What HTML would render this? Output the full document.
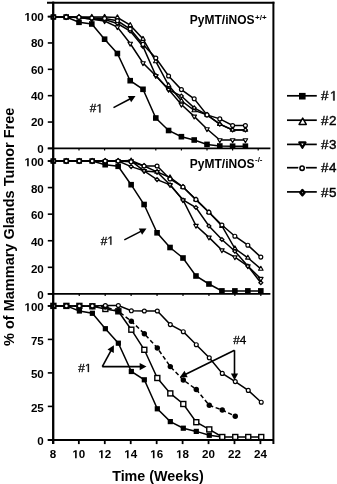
<!DOCTYPE html>
<html><head><meta charset="utf-8"><style>
html,body{margin:0;padding:0;background:#fff;}
body{width:337px;height:484px;overflow:hidden;}
svg{display:block;will-change:transform;font-family:"Liberation Sans",sans-serif;}
</style></head><body>
<svg width="337" height="484" viewBox="0 0 337 484">
<rect width="337" height="484" fill="#fff"/>
<line x1="47.00" y1="2.80" x2="274.40" y2="2.80" stroke="#000" stroke-width="2.0"/>
<line x1="53.20" y1="1.80" x2="53.20" y2="444.10" stroke="#000" stroke-width="2.0"/>
<line x1="273.40" y1="1.80" x2="273.40" y2="444.10" stroke="#000" stroke-width="2.0"/>
<line x1="47.80" y1="148.40" x2="270.40" y2="148.40" stroke="#000" stroke-width="1.8"/>
<line x1="47.80" y1="293.90" x2="270.40" y2="293.90" stroke="#000" stroke-width="1.8"/>
<line x1="47.80" y1="439.90" x2="273.40" y2="439.90" stroke="#000" stroke-width="2.0"/>
<line x1="47.80" y1="16.60" x2="53.20" y2="16.60" stroke="#000" stroke-width="1.6"/>
<path d="M478,0L478,1170L140,959L140,1180L493,1409L759,1409L759,0Z" transform="translate(24.446,21.0) scale(0.005664,-0.005664)" fill="#000"/>
<text x="30.897" y="21.0" font-size="11.6" font-weight="bold">0</text>
<text x="37.349" y="21.0" font-size="11.6" font-weight="bold">0</text>
<line x1="47.80" y1="42.96" x2="53.20" y2="42.96" stroke="#000" stroke-width="1.6"/>
<text x="30.897" y="47.36" font-size="11.6" font-weight="bold">8</text>
<text x="37.349" y="47.36" font-size="11.6" font-weight="bold">0</text>
<line x1="47.80" y1="69.32" x2="53.20" y2="69.32" stroke="#000" stroke-width="1.6"/>
<text x="30.897" y="73.72" font-size="11.6" font-weight="bold">6</text>
<text x="37.349" y="73.72" font-size="11.6" font-weight="bold">0</text>
<line x1="47.80" y1="95.68" x2="53.20" y2="95.68" stroke="#000" stroke-width="1.6"/>
<text x="30.897" y="100.08" font-size="11.6" font-weight="bold">4</text>
<text x="37.349" y="100.08" font-size="11.6" font-weight="bold">0</text>
<line x1="47.80" y1="122.04" x2="53.20" y2="122.04" stroke="#000" stroke-width="1.6"/>
<text x="30.897" y="126.44" font-size="11.6" font-weight="bold">2</text>
<text x="37.349" y="126.44" font-size="11.6" font-weight="bold">0</text>
<line x1="47.80" y1="148.40" x2="53.20" y2="148.40" stroke="#000" stroke-width="1.6"/>
<text x="37.349" y="152.8" font-size="11.6" font-weight="bold">0</text>
<line x1="47.80" y1="161.00" x2="53.20" y2="161.00" stroke="#000" stroke-width="1.6"/>
<path d="M478,0L478,1170L140,959L140,1180L493,1409L759,1409L759,0Z" transform="translate(24.446,166.2) scale(0.005664,-0.005664)" fill="#000"/>
<text x="30.897" y="166.2" font-size="11.6" font-weight="bold">0</text>
<text x="37.349" y="166.2" font-size="11.6" font-weight="bold">0</text>
<line x1="47.80" y1="187.58" x2="53.20" y2="187.58" stroke="#000" stroke-width="1.6"/>
<text x="30.897" y="192.78" font-size="11.6" font-weight="bold">8</text>
<text x="37.349" y="192.78" font-size="11.6" font-weight="bold">0</text>
<line x1="47.80" y1="214.16" x2="53.20" y2="214.16" stroke="#000" stroke-width="1.6"/>
<text x="30.897" y="219.36" font-size="11.6" font-weight="bold">6</text>
<text x="37.349" y="219.36" font-size="11.6" font-weight="bold">0</text>
<line x1="47.80" y1="240.74" x2="53.20" y2="240.74" stroke="#000" stroke-width="1.6"/>
<text x="30.897" y="245.94" font-size="11.6" font-weight="bold">4</text>
<text x="37.349" y="245.94" font-size="11.6" font-weight="bold">0</text>
<line x1="47.80" y1="267.32" x2="53.20" y2="267.32" stroke="#000" stroke-width="1.6"/>
<text x="30.897" y="272.52" font-size="11.6" font-weight="bold">2</text>
<text x="37.349" y="272.52" font-size="11.6" font-weight="bold">0</text>
<line x1="47.80" y1="293.90" x2="53.20" y2="293.90" stroke="#000" stroke-width="1.6"/>
<text x="37.349" y="299.1" font-size="11.6" font-weight="bold">0</text>
<line x1="47.80" y1="305.90" x2="53.20" y2="305.90" stroke="#000" stroke-width="1.6"/>
<path d="M478,0L478,1170L140,959L140,1180L493,1409L759,1409L759,0Z" transform="translate(24.446,311.2) scale(0.005664,-0.005664)" fill="#000"/>
<text x="30.897" y="311.2" font-size="11.6" font-weight="bold">0</text>
<text x="37.349" y="311.2" font-size="11.6" font-weight="bold">0</text>
<line x1="47.80" y1="339.40" x2="53.20" y2="339.40" stroke="#000" stroke-width="1.6"/>
<text x="30.897" y="344.7" font-size="11.6" font-weight="bold">7</text>
<text x="37.349" y="344.7" font-size="11.6" font-weight="bold">5</text>
<line x1="47.80" y1="372.90" x2="53.20" y2="372.90" stroke="#000" stroke-width="1.6"/>
<text x="30.897" y="378.2" font-size="11.6" font-weight="bold">5</text>
<text x="37.349" y="378.2" font-size="11.6" font-weight="bold">0</text>
<line x1="47.80" y1="406.40" x2="53.20" y2="406.40" stroke="#000" stroke-width="1.6"/>
<text x="30.897" y="411.7" font-size="11.6" font-weight="bold">2</text>
<text x="37.349" y="411.7" font-size="11.6" font-weight="bold">5</text>
<line x1="47.80" y1="439.90" x2="53.20" y2="439.90" stroke="#000" stroke-width="1.6"/>
<text x="37.349" y="445.2" font-size="11.6" font-weight="bold">0</text>
<line x1="79.00" y1="148.40" x2="79.00" y2="150.60" stroke="#000" stroke-width="1.2"/>
<line x1="104.60" y1="148.40" x2="104.60" y2="150.60" stroke="#000" stroke-width="1.2"/>
<line x1="130.20" y1="148.40" x2="130.20" y2="150.60" stroke="#000" stroke-width="1.2"/>
<line x1="155.80" y1="148.40" x2="155.80" y2="150.60" stroke="#000" stroke-width="1.2"/>
<line x1="181.40" y1="148.40" x2="181.40" y2="150.60" stroke="#000" stroke-width="1.2"/>
<line x1="207.00" y1="148.40" x2="207.00" y2="150.60" stroke="#000" stroke-width="1.2"/>
<line x1="232.60" y1="148.40" x2="232.60" y2="150.60" stroke="#000" stroke-width="1.2"/>
<line x1="258.20" y1="148.40" x2="258.20" y2="150.60" stroke="#000" stroke-width="1.2"/>
<line x1="79.24" y1="293.90" x2="79.24" y2="296.10" stroke="#000" stroke-width="1.2"/>
<line x1="105.18" y1="293.90" x2="105.18" y2="296.10" stroke="#000" stroke-width="1.2"/>
<line x1="131.12" y1="293.90" x2="131.12" y2="296.10" stroke="#000" stroke-width="1.2"/>
<line x1="157.06" y1="293.90" x2="157.06" y2="296.10" stroke="#000" stroke-width="1.2"/>
<line x1="183.00" y1="293.90" x2="183.00" y2="296.10" stroke="#000" stroke-width="1.2"/>
<line x1="208.94" y1="293.90" x2="208.94" y2="296.10" stroke="#000" stroke-width="1.2"/>
<line x1="234.88" y1="293.90" x2="234.88" y2="296.10" stroke="#000" stroke-width="1.2"/>
<line x1="260.82" y1="293.90" x2="260.82" y2="296.10" stroke="#000" stroke-width="1.2"/>
<line x1="52.90" y1="439.90" x2="52.90" y2="444.10" stroke="#000" stroke-width="1.8"/>
<text x="49.674" y="458.3" font-size="11.6" font-weight="bold">8</text>
<line x1="78.84" y1="439.90" x2="78.84" y2="444.10" stroke="#000" stroke-width="1.8"/>
<path d="M478,0L478,1170L140,959L140,1180L493,1409L759,1409L759,0Z" transform="translate(72.389,458.3) scale(0.005664,-0.005664)" fill="#000"/>
<text x="78.840" y="458.3" font-size="11.6" font-weight="bold">0</text>
<line x1="104.78" y1="439.90" x2="104.78" y2="444.10" stroke="#000" stroke-width="1.8"/>
<path d="M478,0L478,1170L140,959L140,1180L493,1409L759,1409L759,0Z" transform="translate(98.329,458.3) scale(0.005664,-0.005664)" fill="#000"/>
<text x="104.780" y="458.3" font-size="11.6" font-weight="bold">2</text>
<line x1="130.72" y1="439.90" x2="130.72" y2="444.10" stroke="#000" stroke-width="1.8"/>
<path d="M478,0L478,1170L140,959L140,1180L493,1409L759,1409L759,0Z" transform="translate(124.269,458.3) scale(0.005664,-0.005664)" fill="#000"/>
<text x="130.720" y="458.3" font-size="11.6" font-weight="bold">4</text>
<line x1="156.66" y1="439.90" x2="156.66" y2="444.10" stroke="#000" stroke-width="1.8"/>
<path d="M478,0L478,1170L140,959L140,1180L493,1409L759,1409L759,0Z" transform="translate(150.209,458.3) scale(0.005664,-0.005664)" fill="#000"/>
<text x="156.660" y="458.3" font-size="11.6" font-weight="bold">6</text>
<line x1="182.60" y1="439.90" x2="182.60" y2="444.10" stroke="#000" stroke-width="1.8"/>
<path d="M478,0L478,1170L140,959L140,1180L493,1409L759,1409L759,0Z" transform="translate(176.149,458.3) scale(0.005664,-0.005664)" fill="#000"/>
<text x="182.600" y="458.3" font-size="11.6" font-weight="bold">8</text>
<line x1="208.54" y1="439.90" x2="208.54" y2="444.10" stroke="#000" stroke-width="1.8"/>
<text x="202.089" y="458.3" font-size="11.6" font-weight="bold">2</text>
<text x="208.540" y="458.3" font-size="11.6" font-weight="bold">0</text>
<line x1="234.48" y1="439.90" x2="234.48" y2="444.10" stroke="#000" stroke-width="1.8"/>
<text x="228.029" y="458.3" font-size="11.6" font-weight="bold">2</text>
<text x="234.480" y="458.3" font-size="11.6" font-weight="bold">2</text>
<line x1="260.42" y1="439.90" x2="260.42" y2="444.10" stroke="#000" stroke-width="1.8"/>
<text x="253.969" y="458.3" font-size="11.6" font-weight="bold">2</text>
<text x="260.420" y="458.3" font-size="11.6" font-weight="bold">4</text>
<text x="158" y="481.3" font-size="14.3" font-weight="bold" text-anchor="middle">Time (Weeks)</text>
<text x="0" y="0" font-size="14.5" font-weight="bold" text-anchor="middle" transform="translate(14.2,226.8) rotate(-90)">% of Mammary Glands Tumor Free</text>
<text x="189.8" y="24.3" font-size="12" font-weight="bold">PyMT/iNOS<tspan font-size="8" dx="0.6" dy="-4.8">+/+</tspan></text>
<text x="189.8" y="168.3" font-size="12" font-weight="bold">PyMT/iNOS<tspan font-size="8" dx="0.5" dy="-6.6">-/-</tspan></text>
<polyline points="53.40,17.00 66.20,17.00 79.00,17.50 91.80,19.30 104.60,21.00 117.40,27.00 130.20,43.50 143.00,63.00 155.80,75.80 168.60,89.60 181.40,104.50 194.20,116.40 207.00,129.00 219.80,140.00 232.60,140.00 245.40,140.00" fill="none" stroke="#000" stroke-width="1.5" stroke-linejoin="miter"/>
<polyline points="53.40,17.00 66.20,17.00 79.00,17.50 91.80,19.00 104.60,19.50 117.40,23.50 130.20,31.00 143.00,46.50 155.80,75.50 168.60,89.60 181.40,96.00 194.20,107.90 207.00,114.90 219.80,124.20 232.60,129.90 245.40,129.90" fill="none" stroke="#000" stroke-width="1.5" stroke-linejoin="miter"/>
<polyline points="53.40,17.00 66.20,17.00 79.00,17.00 91.80,17.00 104.60,17.00 117.40,17.50 130.20,25.20 143.00,39.00 155.80,61.40 168.60,85.30 181.40,100.80 194.20,110.40 207.00,114.90 219.80,124.20 232.60,129.90 245.40,129.90" fill="none" stroke="#000" stroke-width="1.5" stroke-linejoin="miter"/>
<polyline points="53.40,17.00 66.20,17.00 79.00,17.30 91.80,18.00 104.60,18.50 117.40,20.80 130.20,29.00 143.00,44.40 155.80,58.00 168.60,76.00 181.40,89.60 194.20,98.80 207.00,114.90 219.80,118.90 232.60,125.50 245.40,125.50" fill="none" stroke="#000" stroke-width="1.5" stroke-linejoin="miter"/>
<polyline points="53.40,17.00 66.20,17.00 79.00,22.30 91.80,24.00 104.60,39.20 117.40,53.50 130.20,80.70 143.00,89.30 155.80,118.00 168.60,130.50 181.40,136.70 194.20,140.00 207.00,144.40 219.80,146.00 232.60,146.20 245.40,146.20" fill="none" stroke="#000" stroke-width="1.5" stroke-linejoin="miter"/>
<polygon points="53.40,14.39 55.65,18.30 51.15,18.30" fill="#fff" stroke="#000" stroke-width="1.15" stroke-linejoin="round"/>
<polygon points="66.20,14.39 68.45,18.30 63.95,18.30" fill="#fff" stroke="#000" stroke-width="1.15" stroke-linejoin="round"/>
<polygon points="79.00,14.39 81.25,18.30 76.75,18.30" fill="#fff" stroke="#000" stroke-width="1.15" stroke-linejoin="round"/>
<polygon points="91.80,14.39 94.05,18.30 89.55,18.30" fill="#fff" stroke="#000" stroke-width="1.15" stroke-linejoin="round"/>
<polygon points="104.60,14.39 106.85,18.30 102.35,18.30" fill="#fff" stroke="#000" stroke-width="1.15" stroke-linejoin="round"/>
<polygon points="117.40,14.89 119.65,18.80 115.15,18.80" fill="#fff" stroke="#000" stroke-width="1.15" stroke-linejoin="round"/>
<polygon points="130.20,22.59 132.45,26.50 127.95,26.50" fill="#fff" stroke="#000" stroke-width="1.15" stroke-linejoin="round"/>
<polygon points="143.00,36.39 145.25,40.30 140.75,40.30" fill="#fff" stroke="#000" stroke-width="1.15" stroke-linejoin="round"/>
<polygon points="155.80,58.79 158.05,62.70 153.55,62.70" fill="#fff" stroke="#000" stroke-width="1.15" stroke-linejoin="round"/>
<polygon points="168.60,82.69 170.85,86.60 166.35,86.60" fill="#fff" stroke="#000" stroke-width="1.15" stroke-linejoin="round"/>
<polygon points="181.40,98.19 183.65,102.10 179.15,102.10" fill="#fff" stroke="#000" stroke-width="1.15" stroke-linejoin="round"/>
<polygon points="194.20,107.79 196.45,111.70 191.95,111.70" fill="#fff" stroke="#000" stroke-width="1.15" stroke-linejoin="round"/>
<polygon points="207.00,112.29 209.25,116.20 204.75,116.20" fill="#fff" stroke="#000" stroke-width="1.15" stroke-linejoin="round"/>
<polygon points="219.80,121.59 222.05,125.50 217.55,125.50" fill="#fff" stroke="#000" stroke-width="1.15" stroke-linejoin="round"/>
<polygon points="232.60,127.29 234.85,131.20 230.35,131.20" fill="#fff" stroke="#000" stroke-width="1.15" stroke-linejoin="round"/>
<polygon points="245.40,127.29 247.65,131.20 243.15,131.20" fill="#fff" stroke="#000" stroke-width="1.15" stroke-linejoin="round"/>
<polygon points="53.40,19.61 55.65,15.70 51.15,15.70" fill="#fff" stroke="#000" stroke-width="1.15" stroke-linejoin="round"/>
<polygon points="66.20,19.61 68.45,15.70 63.95,15.70" fill="#fff" stroke="#000" stroke-width="1.15" stroke-linejoin="round"/>
<polygon points="79.00,20.11 81.25,16.20 76.75,16.20" fill="#fff" stroke="#000" stroke-width="1.15" stroke-linejoin="round"/>
<polygon points="91.80,21.91 94.05,18.00 89.55,18.00" fill="#fff" stroke="#000" stroke-width="1.15" stroke-linejoin="round"/>
<polygon points="104.60,23.61 106.85,19.70 102.35,19.70" fill="#fff" stroke="#000" stroke-width="1.15" stroke-linejoin="round"/>
<polygon points="117.40,29.61 119.65,25.70 115.15,25.70" fill="#fff" stroke="#000" stroke-width="1.15" stroke-linejoin="round"/>
<polygon points="130.20,46.11 132.45,42.20 127.95,42.20" fill="#fff" stroke="#000" stroke-width="1.15" stroke-linejoin="round"/>
<polygon points="143.00,65.61 145.25,61.70 140.75,61.70" fill="#fff" stroke="#000" stroke-width="1.15" stroke-linejoin="round"/>
<polygon points="155.80,78.41 158.05,74.50 153.55,74.50" fill="#fff" stroke="#000" stroke-width="1.15" stroke-linejoin="round"/>
<polygon points="168.60,92.21 170.85,88.30 166.35,88.30" fill="#fff" stroke="#000" stroke-width="1.15" stroke-linejoin="round"/>
<polygon points="181.40,107.11 183.65,103.20 179.15,103.20" fill="#fff" stroke="#000" stroke-width="1.15" stroke-linejoin="round"/>
<polygon points="194.20,119.01 196.45,115.10 191.95,115.10" fill="#fff" stroke="#000" stroke-width="1.15" stroke-linejoin="round"/>
<polygon points="207.00,131.61 209.25,127.70 204.75,127.70" fill="#fff" stroke="#000" stroke-width="1.15" stroke-linejoin="round"/>
<polygon points="219.80,142.61 222.05,138.70 217.55,138.70" fill="#fff" stroke="#000" stroke-width="1.15" stroke-linejoin="round"/>
<polygon points="232.60,142.61 234.85,138.70 230.35,138.70" fill="#fff" stroke="#000" stroke-width="1.15" stroke-linejoin="round"/>
<polygon points="245.40,142.61 247.65,138.70 243.15,138.70" fill="#fff" stroke="#000" stroke-width="1.15" stroke-linejoin="round"/>
<polygon points="53.40,15.10 55.30,17.00 53.40,18.90 51.50,17.00" fill="#fff" stroke="#000" stroke-width="1.3"/>
<polygon points="66.20,15.10 68.10,17.00 66.20,18.90 64.30,17.00" fill="#fff" stroke="#000" stroke-width="1.3"/>
<polygon points="79.00,15.60 80.90,17.50 79.00,19.40 77.10,17.50" fill="#fff" stroke="#000" stroke-width="1.3"/>
<polygon points="91.80,17.10 93.70,19.00 91.80,20.90 89.90,19.00" fill="#fff" stroke="#000" stroke-width="1.3"/>
<polygon points="104.60,17.60 106.50,19.50 104.60,21.40 102.70,19.50" fill="#fff" stroke="#000" stroke-width="1.3"/>
<polygon points="117.40,21.60 119.30,23.50 117.40,25.40 115.50,23.50" fill="#fff" stroke="#000" stroke-width="1.3"/>
<polygon points="130.20,29.10 132.10,31.00 130.20,32.90 128.30,31.00" fill="#fff" stroke="#000" stroke-width="1.3"/>
<polygon points="143.00,44.60 144.90,46.50 143.00,48.40 141.10,46.50" fill="#fff" stroke="#000" stroke-width="1.3"/>
<polygon points="155.80,73.60 157.70,75.50 155.80,77.40 153.90,75.50" fill="#fff" stroke="#000" stroke-width="1.3"/>
<polygon points="168.60,87.70 170.50,89.60 168.60,91.50 166.70,89.60" fill="#fff" stroke="#000" stroke-width="1.3"/>
<polygon points="181.40,94.10 183.30,96.00 181.40,97.90 179.50,96.00" fill="#fff" stroke="#000" stroke-width="1.3"/>
<polygon points="194.20,106.00 196.10,107.90 194.20,109.80 192.30,107.90" fill="#fff" stroke="#000" stroke-width="1.3"/>
<polygon points="207.00,113.00 208.90,114.90 207.00,116.80 205.10,114.90" fill="#fff" stroke="#000" stroke-width="1.3"/>
<polygon points="219.80,122.30 221.70,124.20 219.80,126.10 217.90,124.20" fill="#fff" stroke="#000" stroke-width="1.3"/>
<polygon points="232.60,128.00 234.50,129.90 232.60,131.80 230.70,129.90" fill="#fff" stroke="#000" stroke-width="1.3"/>
<polygon points="245.40,128.00 247.30,129.90 245.40,131.80 243.50,129.90" fill="#fff" stroke="#000" stroke-width="1.3"/>
<rect x="50.60" y="14.20" width="5.6" height="5.6" fill="#000"/>
<rect x="63.40" y="14.20" width="5.6" height="5.6" fill="#000"/>
<rect x="76.20" y="19.50" width="5.6" height="5.6" fill="#000"/>
<rect x="89.00" y="21.20" width="5.6" height="5.6" fill="#000"/>
<rect x="101.80" y="36.40" width="5.6" height="5.6" fill="#000"/>
<rect x="114.60" y="50.70" width="5.6" height="5.6" fill="#000"/>
<rect x="127.40" y="77.90" width="5.6" height="5.6" fill="#000"/>
<rect x="140.20" y="86.50" width="5.6" height="5.6" fill="#000"/>
<rect x="153.00" y="115.20" width="5.6" height="5.6" fill="#000"/>
<rect x="165.80" y="127.70" width="5.6" height="5.6" fill="#000"/>
<rect x="178.60" y="133.90" width="5.6" height="5.6" fill="#000"/>
<rect x="191.40" y="137.20" width="5.6" height="5.6" fill="#000"/>
<rect x="204.20" y="141.60" width="5.6" height="5.6" fill="#000"/>
<rect x="217.00" y="143.20" width="5.6" height="5.6" fill="#000"/>
<rect x="229.80" y="143.40" width="5.6" height="5.6" fill="#000"/>
<rect x="242.60" y="143.40" width="5.6" height="5.6" fill="#000"/>
<circle cx="53.40" cy="17.00" r="1.95" fill="#fff" stroke="#000" stroke-width="1.2"/>
<circle cx="66.20" cy="17.00" r="1.95" fill="#fff" stroke="#000" stroke-width="1.2"/>
<circle cx="79.00" cy="17.30" r="1.95" fill="#fff" stroke="#000" stroke-width="1.2"/>
<circle cx="91.80" cy="18.00" r="1.95" fill="#fff" stroke="#000" stroke-width="1.2"/>
<circle cx="104.60" cy="18.50" r="1.95" fill="#fff" stroke="#000" stroke-width="1.2"/>
<circle cx="117.40" cy="20.80" r="1.95" fill="#fff" stroke="#000" stroke-width="1.2"/>
<circle cx="130.20" cy="29.00" r="1.95" fill="#fff" stroke="#000" stroke-width="1.2"/>
<circle cx="143.00" cy="44.40" r="1.95" fill="#fff" stroke="#000" stroke-width="1.2"/>
<circle cx="155.80" cy="58.00" r="1.95" fill="#fff" stroke="#000" stroke-width="1.2"/>
<circle cx="168.60" cy="76.00" r="1.95" fill="#fff" stroke="#000" stroke-width="1.2"/>
<circle cx="181.40" cy="89.60" r="1.95" fill="#fff" stroke="#000" stroke-width="1.2"/>
<circle cx="194.20" cy="98.80" r="1.95" fill="#fff" stroke="#000" stroke-width="1.2"/>
<circle cx="207.00" cy="114.90" r="1.95" fill="#fff" stroke="#000" stroke-width="1.2"/>
<circle cx="219.80" cy="118.90" r="1.95" fill="#fff" stroke="#000" stroke-width="1.2"/>
<circle cx="232.60" cy="125.50" r="1.95" fill="#fff" stroke="#000" stroke-width="1.2"/>
<circle cx="245.40" cy="125.50" r="1.95" fill="#fff" stroke="#000" stroke-width="1.2"/>
<polyline points="53.30,161.00 66.27,161.00 79.24,161.00 92.21,161.00 105.18,161.00 118.15,161.00 131.12,161.00 144.09,170.90 157.06,171.90 170.03,184.80 183.00,200.00 195.97,225.60 208.94,237.40 221.91,250.10 234.88,257.10 247.85,266.10 260.82,278.70" fill="none" stroke="#000" stroke-width="1.5" stroke-linejoin="miter"/>
<polyline points="53.30,161.00 66.27,161.00 79.24,161.00 92.21,161.00 105.18,161.00 118.15,161.00 131.12,166.60 144.09,170.90 157.06,179.60 170.03,184.80 183.00,200.00 195.97,207.50 208.94,226.00 221.91,239.50 234.88,251.20 247.85,266.10 260.82,282.70" fill="none" stroke="#000" stroke-width="1.5" stroke-linejoin="miter"/>
<polyline points="53.30,161.00 66.27,161.00 79.24,161.00 92.21,161.00 105.18,161.00 118.15,161.00 131.12,160.60 144.09,166.00 157.06,171.90 170.03,177.50 183.00,187.00 195.97,199.60 208.94,212.30 221.91,226.00 234.88,248.50 247.85,257.80 260.82,268.90" fill="none" stroke="#000" stroke-width="1.5" stroke-linejoin="miter"/>
<polyline points="53.30,161.00 66.27,161.00 79.24,161.00 92.21,161.00 105.18,161.00 118.15,161.00 131.12,161.80 144.09,166.00 157.06,166.00 170.03,179.00 183.00,187.00 195.97,199.60 208.94,212.30 221.91,225.00 234.88,236.20 247.85,245.20 260.82,257.10" fill="none" stroke="#000" stroke-width="1.5" stroke-linejoin="miter"/>
<polyline points="53.30,161.00 66.27,161.00 79.24,161.00 92.21,161.00 105.18,164.70 118.15,166.30 131.12,184.70 144.09,204.50 157.06,232.80 170.03,247.50 183.00,258.00 195.97,276.00 208.94,284.00 221.91,290.90 234.88,290.90 247.85,290.90 260.82,290.90" fill="none" stroke="#000" stroke-width="1.5" stroke-linejoin="miter"/>
<polygon points="53.30,158.39 55.55,162.30 51.05,162.30" fill="#fff" stroke="#000" stroke-width="1.15" stroke-linejoin="round"/>
<polygon points="66.27,158.39 68.52,162.30 64.02,162.30" fill="#fff" stroke="#000" stroke-width="1.15" stroke-linejoin="round"/>
<polygon points="79.24,158.39 81.49,162.30 76.99,162.30" fill="#fff" stroke="#000" stroke-width="1.15" stroke-linejoin="round"/>
<polygon points="92.21,158.39 94.46,162.30 89.96,162.30" fill="#fff" stroke="#000" stroke-width="1.15" stroke-linejoin="round"/>
<polygon points="105.18,158.39 107.43,162.30 102.93,162.30" fill="#fff" stroke="#000" stroke-width="1.15" stroke-linejoin="round"/>
<polygon points="118.15,158.39 120.40,162.30 115.90,162.30" fill="#fff" stroke="#000" stroke-width="1.15" stroke-linejoin="round"/>
<polygon points="131.12,157.99 133.37,161.90 128.87,161.90" fill="#fff" stroke="#000" stroke-width="1.15" stroke-linejoin="round"/>
<polygon points="144.09,163.39 146.34,167.30 141.84,167.30" fill="#fff" stroke="#000" stroke-width="1.15" stroke-linejoin="round"/>
<polygon points="157.06,169.29 159.31,173.20 154.81,173.20" fill="#fff" stroke="#000" stroke-width="1.15" stroke-linejoin="round"/>
<polygon points="170.03,174.89 172.28,178.80 167.78,178.80" fill="#fff" stroke="#000" stroke-width="1.15" stroke-linejoin="round"/>
<polygon points="183.00,184.39 185.25,188.30 180.75,188.30" fill="#fff" stroke="#000" stroke-width="1.15" stroke-linejoin="round"/>
<polygon points="195.97,196.99 198.22,200.90 193.72,200.90" fill="#fff" stroke="#000" stroke-width="1.15" stroke-linejoin="round"/>
<polygon points="208.94,209.69 211.19,213.60 206.69,213.60" fill="#fff" stroke="#000" stroke-width="1.15" stroke-linejoin="round"/>
<polygon points="221.91,223.39 224.16,227.30 219.66,227.30" fill="#fff" stroke="#000" stroke-width="1.15" stroke-linejoin="round"/>
<polygon points="234.88,245.89 237.13,249.80 232.63,249.80" fill="#fff" stroke="#000" stroke-width="1.15" stroke-linejoin="round"/>
<polygon points="247.85,255.19 250.10,259.10 245.60,259.10" fill="#fff" stroke="#000" stroke-width="1.15" stroke-linejoin="round"/>
<polygon points="260.82,266.29 263.07,270.20 258.57,270.20" fill="#fff" stroke="#000" stroke-width="1.15" stroke-linejoin="round"/>
<polygon points="53.30,163.61 55.55,159.70 51.05,159.70" fill="#fff" stroke="#000" stroke-width="1.15" stroke-linejoin="round"/>
<polygon points="66.27,163.61 68.52,159.70 64.02,159.70" fill="#fff" stroke="#000" stroke-width="1.15" stroke-linejoin="round"/>
<polygon points="79.24,163.61 81.49,159.70 76.99,159.70" fill="#fff" stroke="#000" stroke-width="1.15" stroke-linejoin="round"/>
<polygon points="92.21,163.61 94.46,159.70 89.96,159.70" fill="#fff" stroke="#000" stroke-width="1.15" stroke-linejoin="round"/>
<polygon points="105.18,163.61 107.43,159.70 102.93,159.70" fill="#fff" stroke="#000" stroke-width="1.15" stroke-linejoin="round"/>
<polygon points="118.15,163.61 120.40,159.70 115.90,159.70" fill="#fff" stroke="#000" stroke-width="1.15" stroke-linejoin="round"/>
<polygon points="131.12,163.61 133.37,159.70 128.87,159.70" fill="#fff" stroke="#000" stroke-width="1.15" stroke-linejoin="round"/>
<polygon points="144.09,173.51 146.34,169.60 141.84,169.60" fill="#fff" stroke="#000" stroke-width="1.15" stroke-linejoin="round"/>
<polygon points="157.06,174.51 159.31,170.60 154.81,170.60" fill="#fff" stroke="#000" stroke-width="1.15" stroke-linejoin="round"/>
<polygon points="170.03,187.41 172.28,183.50 167.78,183.50" fill="#fff" stroke="#000" stroke-width="1.15" stroke-linejoin="round"/>
<polygon points="183.00,202.61 185.25,198.70 180.75,198.70" fill="#fff" stroke="#000" stroke-width="1.15" stroke-linejoin="round"/>
<polygon points="195.97,228.21 198.22,224.30 193.72,224.30" fill="#fff" stroke="#000" stroke-width="1.15" stroke-linejoin="round"/>
<polygon points="208.94,240.01 211.19,236.10 206.69,236.10" fill="#fff" stroke="#000" stroke-width="1.15" stroke-linejoin="round"/>
<polygon points="221.91,252.71 224.16,248.80 219.66,248.80" fill="#fff" stroke="#000" stroke-width="1.15" stroke-linejoin="round"/>
<polygon points="234.88,259.71 237.13,255.80 232.63,255.80" fill="#fff" stroke="#000" stroke-width="1.15" stroke-linejoin="round"/>
<polygon points="247.85,268.71 250.10,264.80 245.60,264.80" fill="#fff" stroke="#000" stroke-width="1.15" stroke-linejoin="round"/>
<polygon points="260.82,281.31 263.07,277.40 258.57,277.40" fill="#fff" stroke="#000" stroke-width="1.15" stroke-linejoin="round"/>
<polygon points="53.30,159.10 55.20,161.00 53.30,162.90 51.40,161.00" fill="#fff" stroke="#000" stroke-width="1.3"/>
<polygon points="66.27,159.10 68.17,161.00 66.27,162.90 64.37,161.00" fill="#fff" stroke="#000" stroke-width="1.3"/>
<polygon points="79.24,159.10 81.14,161.00 79.24,162.90 77.34,161.00" fill="#fff" stroke="#000" stroke-width="1.3"/>
<polygon points="92.21,159.10 94.11,161.00 92.21,162.90 90.31,161.00" fill="#fff" stroke="#000" stroke-width="1.3"/>
<polygon points="105.18,159.10 107.08,161.00 105.18,162.90 103.28,161.00" fill="#fff" stroke="#000" stroke-width="1.3"/>
<polygon points="118.15,159.10 120.05,161.00 118.15,162.90 116.25,161.00" fill="#fff" stroke="#000" stroke-width="1.3"/>
<polygon points="131.12,164.70 133.02,166.60 131.12,168.50 129.22,166.60" fill="#fff" stroke="#000" stroke-width="1.3"/>
<polygon points="144.09,169.00 145.99,170.90 144.09,172.80 142.19,170.90" fill="#fff" stroke="#000" stroke-width="1.3"/>
<polygon points="157.06,177.70 158.96,179.60 157.06,181.50 155.16,179.60" fill="#fff" stroke="#000" stroke-width="1.3"/>
<polygon points="170.03,182.90 171.93,184.80 170.03,186.70 168.13,184.80" fill="#fff" stroke="#000" stroke-width="1.3"/>
<polygon points="183.00,198.10 184.90,200.00 183.00,201.90 181.10,200.00" fill="#fff" stroke="#000" stroke-width="1.3"/>
<polygon points="195.97,205.60 197.87,207.50 195.97,209.40 194.07,207.50" fill="#fff" stroke="#000" stroke-width="1.3"/>
<polygon points="208.94,224.10 210.84,226.00 208.94,227.90 207.04,226.00" fill="#fff" stroke="#000" stroke-width="1.3"/>
<polygon points="221.91,237.60 223.81,239.50 221.91,241.40 220.01,239.50" fill="#fff" stroke="#000" stroke-width="1.3"/>
<polygon points="234.88,249.30 236.78,251.20 234.88,253.10 232.98,251.20" fill="#fff" stroke="#000" stroke-width="1.3"/>
<polygon points="247.85,264.20 249.75,266.10 247.85,268.00 245.95,266.10" fill="#fff" stroke="#000" stroke-width="1.3"/>
<polygon points="260.82,280.80 262.72,282.70 260.82,284.60 258.92,282.70" fill="#fff" stroke="#000" stroke-width="1.3"/>
<rect x="50.50" y="158.20" width="5.6" height="5.6" fill="#000"/>
<rect x="63.47" y="158.20" width="5.6" height="5.6" fill="#000"/>
<rect x="76.44" y="158.20" width="5.6" height="5.6" fill="#000"/>
<rect x="89.41" y="158.20" width="5.6" height="5.6" fill="#000"/>
<rect x="102.38" y="161.90" width="5.6" height="5.6" fill="#000"/>
<rect x="115.35" y="163.50" width="5.6" height="5.6" fill="#000"/>
<rect x="128.32" y="181.90" width="5.6" height="5.6" fill="#000"/>
<rect x="141.29" y="201.70" width="5.6" height="5.6" fill="#000"/>
<rect x="154.26" y="230.00" width="5.6" height="5.6" fill="#000"/>
<rect x="167.23" y="244.70" width="5.6" height="5.6" fill="#000"/>
<rect x="180.20" y="255.20" width="5.6" height="5.6" fill="#000"/>
<rect x="193.17" y="273.20" width="5.6" height="5.6" fill="#000"/>
<rect x="206.14" y="281.20" width="5.6" height="5.6" fill="#000"/>
<rect x="219.11" y="288.10" width="5.6" height="5.6" fill="#000"/>
<rect x="232.08" y="288.10" width="5.6" height="5.6" fill="#000"/>
<rect x="245.05" y="288.10" width="5.6" height="5.6" fill="#000"/>
<rect x="258.02" y="288.10" width="5.6" height="5.6" fill="#000"/>
<circle cx="53.30" cy="161.00" r="1.95" fill="#fff" stroke="#000" stroke-width="1.2"/>
<circle cx="66.27" cy="161.00" r="1.95" fill="#fff" stroke="#000" stroke-width="1.2"/>
<circle cx="79.24" cy="161.00" r="1.95" fill="#fff" stroke="#000" stroke-width="1.2"/>
<circle cx="92.21" cy="161.00" r="1.95" fill="#fff" stroke="#000" stroke-width="1.2"/>
<circle cx="105.18" cy="161.00" r="1.95" fill="#fff" stroke="#000" stroke-width="1.2"/>
<circle cx="118.15" cy="161.00" r="1.95" fill="#fff" stroke="#000" stroke-width="1.2"/>
<circle cx="131.12" cy="161.80" r="1.95" fill="#fff" stroke="#000" stroke-width="1.2"/>
<circle cx="144.09" cy="166.00" r="1.95" fill="#fff" stroke="#000" stroke-width="1.2"/>
<circle cx="157.06" cy="166.00" r="1.95" fill="#fff" stroke="#000" stroke-width="1.2"/>
<circle cx="170.03" cy="179.00" r="1.95" fill="#fff" stroke="#000" stroke-width="1.2"/>
<circle cx="183.00" cy="187.00" r="1.95" fill="#fff" stroke="#000" stroke-width="1.2"/>
<circle cx="195.97" cy="199.60" r="1.95" fill="#fff" stroke="#000" stroke-width="1.2"/>
<circle cx="208.94" cy="212.30" r="1.95" fill="#fff" stroke="#000" stroke-width="1.2"/>
<circle cx="221.91" cy="225.00" r="1.95" fill="#fff" stroke="#000" stroke-width="1.2"/>
<circle cx="234.88" cy="236.20" r="1.95" fill="#fff" stroke="#000" stroke-width="1.2"/>
<circle cx="247.85" cy="245.20" r="1.95" fill="#fff" stroke="#000" stroke-width="1.2"/>
<circle cx="260.82" cy="257.10" r="1.95" fill="#fff" stroke="#000" stroke-width="1.2"/>
<polyline points="53.40,305.90 66.39,305.90 79.38,305.90 92.37,305.90 105.36,305.50 118.35,305.50 131.34,310.80 144.33,311.00 157.32,311.00 170.31,324.60 183.30,331.70 196.29,344.70 209.28,357.80 222.27,373.40 235.26,381.60 248.25,390.40 261.24,402.20" fill="none" stroke="#000" stroke-width="1.5" stroke-linejoin="miter"/>
<polyline points="53.40,306.00 66.39,306.00 79.38,306.00 92.37,306.50 105.36,307.00 118.35,311.30 131.34,321.20 144.33,333.70 157.32,348.00 170.31,366.60 183.30,380.00 196.29,389.50 209.28,405.30 222.27,410.00 235.26,416.30" fill="none" stroke="#000" stroke-width="1.5" stroke-linejoin="miter" stroke-dasharray="4.2,2.6"/>
<polyline points="53.40,305.90 66.39,305.90 79.38,311.00 92.37,313.30 105.36,328.70 118.35,343.20 131.34,371.50 144.33,379.80 157.32,408.80 170.31,421.60 183.30,428.20 196.29,431.40 209.28,435.30 222.27,437.00" fill="none" stroke="#000" stroke-width="1.5" stroke-linejoin="miter"/>
<polyline points="53.40,305.90 66.39,305.90 79.38,305.90 92.37,306.30 105.36,309.00 118.35,311.30 131.34,329.70 144.33,349.80 157.32,378.00 170.31,393.40 183.30,404.00 196.29,422.20 209.28,429.40 222.27,437.00 235.26,437.00 248.25,437.00 261.24,437.00" fill="none" stroke="#000" stroke-width="1.5" stroke-linejoin="miter"/>
<rect x="50.80" y="303.30" width="5.2" height="5.2" fill="#000"/>
<rect x="63.79" y="303.30" width="5.2" height="5.2" fill="#000"/>
<rect x="76.78" y="308.40" width="5.2" height="5.2" fill="#000"/>
<rect x="89.77" y="310.70" width="5.2" height="5.2" fill="#000"/>
<rect x="102.76" y="326.10" width="5.2" height="5.2" fill="#000"/>
<rect x="115.75" y="340.60" width="5.2" height="5.2" fill="#000"/>
<rect x="128.74" y="368.90" width="5.2" height="5.2" fill="#000"/>
<rect x="141.73" y="377.20" width="5.2" height="5.2" fill="#000"/>
<rect x="154.72" y="406.20" width="5.2" height="5.2" fill="#000"/>
<rect x="167.71" y="419.00" width="5.2" height="5.2" fill="#000"/>
<rect x="180.70" y="425.60" width="5.2" height="5.2" fill="#000"/>
<rect x="193.69" y="428.80" width="5.2" height="5.2" fill="#000"/>
<rect x="206.68" y="432.70" width="5.2" height="5.2" fill="#000"/>
<rect x="219.67" y="434.40" width="5.2" height="5.2" fill="#000"/>
<rect x="50.90" y="303.40" width="5.0" height="5.0" fill="#fff" stroke="#000" stroke-width="1.4"/>
<rect x="63.89" y="303.40" width="5.0" height="5.0" fill="#fff" stroke="#000" stroke-width="1.4"/>
<rect x="76.88" y="303.40" width="5.0" height="5.0" fill="#fff" stroke="#000" stroke-width="1.4"/>
<rect x="89.87" y="303.80" width="5.0" height="5.0" fill="#fff" stroke="#000" stroke-width="1.4"/>
<rect x="102.86" y="306.50" width="5.0" height="5.0" fill="#fff" stroke="#000" stroke-width="1.4"/>
<rect x="115.85" y="308.80" width="5.0" height="5.0" fill="#fff" stroke="#000" stroke-width="1.4"/>
<rect x="128.84" y="327.20" width="5.0" height="5.0" fill="#fff" stroke="#000" stroke-width="1.4"/>
<rect x="141.83" y="347.30" width="5.0" height="5.0" fill="#fff" stroke="#000" stroke-width="1.4"/>
<rect x="154.82" y="375.50" width="5.0" height="5.0" fill="#fff" stroke="#000" stroke-width="1.4"/>
<rect x="167.81" y="390.90" width="5.0" height="5.0" fill="#fff" stroke="#000" stroke-width="1.4"/>
<rect x="180.80" y="401.50" width="5.0" height="5.0" fill="#fff" stroke="#000" stroke-width="1.4"/>
<rect x="193.79" y="419.70" width="5.0" height="5.0" fill="#fff" stroke="#000" stroke-width="1.4"/>
<rect x="206.78" y="426.90" width="5.0" height="5.0" fill="#fff" stroke="#000" stroke-width="1.4"/>
<rect x="219.77" y="434.50" width="5.0" height="5.0" fill="#fff" stroke="#000" stroke-width="1.4"/>
<rect x="232.76" y="434.50" width="5.0" height="5.0" fill="#fff" stroke="#000" stroke-width="1.4"/>
<rect x="245.75" y="434.50" width="5.0" height="5.0" fill="#fff" stroke="#000" stroke-width="1.4"/>
<rect x="258.74" y="434.50" width="5.0" height="5.0" fill="#fff" stroke="#000" stroke-width="1.4"/>
<circle cx="53.40" cy="306.00" r="2.7" fill="#000"/>
<circle cx="66.39" cy="306.00" r="2.7" fill="#000"/>
<circle cx="79.38" cy="306.00" r="2.7" fill="#000"/>
<circle cx="92.37" cy="306.50" r="2.7" fill="#000"/>
<circle cx="105.36" cy="307.00" r="2.7" fill="#000"/>
<circle cx="118.35" cy="311.30" r="2.7" fill="#000"/>
<circle cx="131.34" cy="321.20" r="2.7" fill="#000"/>
<circle cx="144.33" cy="333.70" r="2.7" fill="#000"/>
<circle cx="157.32" cy="348.00" r="2.7" fill="#000"/>
<circle cx="170.31" cy="366.60" r="2.7" fill="#000"/>
<circle cx="183.30" cy="380.00" r="2.7" fill="#000"/>
<circle cx="196.29" cy="389.50" r="2.7" fill="#000"/>
<circle cx="209.28" cy="405.30" r="2.7" fill="#000"/>
<circle cx="222.27" cy="410.00" r="2.7" fill="#000"/>
<circle cx="235.26" cy="416.30" r="2.7" fill="#000"/>
<circle cx="53.40" cy="305.90" r="1.95" fill="#fff" stroke="#000" stroke-width="1.2"/>
<circle cx="66.39" cy="305.90" r="1.95" fill="#fff" stroke="#000" stroke-width="1.2"/>
<circle cx="79.38" cy="305.90" r="1.95" fill="#fff" stroke="#000" stroke-width="1.2"/>
<circle cx="92.37" cy="305.90" r="1.95" fill="#fff" stroke="#000" stroke-width="1.2"/>
<circle cx="105.36" cy="305.50" r="1.95" fill="#fff" stroke="#000" stroke-width="1.2"/>
<circle cx="118.35" cy="305.50" r="1.95" fill="#fff" stroke="#000" stroke-width="1.2"/>
<circle cx="131.34" cy="310.80" r="1.95" fill="#fff" stroke="#000" stroke-width="1.2"/>
<circle cx="144.33" cy="311.00" r="1.95" fill="#fff" stroke="#000" stroke-width="1.2"/>
<circle cx="157.32" cy="311.00" r="1.95" fill="#fff" stroke="#000" stroke-width="1.2"/>
<circle cx="170.31" cy="324.60" r="1.95" fill="#fff" stroke="#000" stroke-width="1.2"/>
<circle cx="183.30" cy="331.70" r="1.95" fill="#fff" stroke="#000" stroke-width="1.2"/>
<circle cx="196.29" cy="344.70" r="1.95" fill="#fff" stroke="#000" stroke-width="1.2"/>
<circle cx="209.28" cy="357.80" r="1.95" fill="#fff" stroke="#000" stroke-width="1.2"/>
<circle cx="222.27" cy="373.40" r="1.95" fill="#fff" stroke="#000" stroke-width="1.2"/>
<circle cx="235.26" cy="381.60" r="1.95" fill="#fff" stroke="#000" stroke-width="1.2"/>
<circle cx="248.25" cy="390.40" r="1.95" fill="#fff" stroke="#000" stroke-width="1.2"/>
<circle cx="261.24" cy="402.20" r="1.95" fill="#fff" stroke="#000" stroke-width="1.2"/>
<line x1="53.20" y1="1.80" x2="53.20" y2="444.10" stroke="#000" stroke-width="2.0"/>
<line x1="47.80" y1="16.60" x2="53.20" y2="16.60" stroke="#000" stroke-width="1.6"/>
<line x1="47.80" y1="161.00" x2="53.20" y2="161.00" stroke="#000" stroke-width="1.6"/>
<line x1="47.80" y1="305.90" x2="53.20" y2="305.90" stroke="#000" stroke-width="1.6"/>
<text x="89.800" y="112.4" font-size="11.8" font-weight="normal" stroke="#000" stroke-width="0.3">#</text>
<path d="M515,0L515,1237L197,1010L197,1180L530,1409L696,1409L696,0Z" transform="translate(96.363,112.4) scale(0.005762,-0.005762)" fill="#000" stroke="#000" stroke-width="52.1"/>
<line x1="113.50" y1="107.60" x2="130.37" y2="98.71" stroke="#000" stroke-width="1.6"/>
<polygon points="135.50,96.00 131.16,102.36 127.81,95.99" fill="#000"/>
<text x="100.800" y="244.7" font-size="11.8" font-weight="normal" stroke="#000" stroke-width="0.3">#</text>
<path d="M515,0L515,1237L197,1010L197,1180L530,1409L696,1409L696,0Z" transform="translate(107.363,244.7) scale(0.005762,-0.005762)" fill="#000" stroke="#000" stroke-width="52.1"/>
<line x1="124.30" y1="239.90" x2="141.34" y2="231.15" stroke="#000" stroke-width="1.6"/>
<polygon points="146.50,228.50 142.10,234.81 138.81,228.40" fill="#000"/>
<text x="78.300" y="372.0" font-size="11.8" font-weight="normal" stroke="#000" stroke-width="0.3">#</text>
<path d="M515,0L515,1237L197,1010L197,1180L530,1409L696,1409L696,0Z" transform="translate(84.863,372.0) scale(0.005762,-0.005762)" fill="#000" stroke="#000" stroke-width="52.1"/>
<line x1="102.30" y1="366.60" x2="111.13" y2="350.39" stroke="#000" stroke-width="1.6"/>
<polygon points="113.90,345.30 113.81,352.99 107.49,349.55" fill="#000"/>
<line x1="102.30" y1="366.60" x2="140.70" y2="366.60" stroke="#000" stroke-width="1.6"/>
<polygon points="146.50,366.60 139.70,370.20 139.70,363.00" fill="#000"/>
<text x="233.200" y="343.5" font-size="11.8" font-weight="normal" stroke="#000" stroke-width="0.3">#</text>
<text x="239.763" y="343.5" font-size="11.8" font-weight="normal" stroke="#000" stroke-width="0.3">4</text>
<line x1="234.50" y1="350.30" x2="185.21" y2="374.45" stroke="#000" stroke-width="1.6"/>
<polygon points="180.00,377.00 184.52,370.78 187.69,377.24" fill="#000"/>
<line x1="234.50" y1="350.30" x2="234.50" y2="374.40" stroke="#000" stroke-width="1.6"/>
<polygon points="234.50,380.20 230.90,373.40 238.10,373.40" fill="#000"/>
<line x1="287.00" y1="95.80" x2="316.80" y2="95.80" stroke="#000" stroke-width="1.7"/>
<text x="320.900" y="100.4" font-size="13.4" font-weight="normal" stroke="#000" stroke-width="0.4">#</text>
<path d="M515,0L515,1237L197,1010L197,1180L530,1409L696,1409L696,0Z" transform="translate(329.952,100.4) scale(0.006543,-0.006543)" fill="#000" stroke="#000" stroke-width="61.1"/>
<line x1="287.00" y1="120.20" x2="316.80" y2="120.20" stroke="#000" stroke-width="1.7"/>
<text x="320.900" y="124.8" font-size="13.4" font-weight="normal" stroke="#000" stroke-width="0.4">#</text>
<text x="329.052" y="124.8" font-size="13.4" font-weight="normal" stroke="#000" stroke-width="0.4">2</text>
<line x1="287.00" y1="144.40" x2="316.80" y2="144.40" stroke="#000" stroke-width="1.7"/>
<text x="320.900" y="149.0" font-size="13.4" font-weight="normal" stroke="#000" stroke-width="0.4">#</text>
<text x="329.052" y="149.0" font-size="13.4" font-weight="normal" stroke="#000" stroke-width="0.4">3</text>
<line x1="287.00" y1="167.70" x2="316.80" y2="167.70" stroke="#000" stroke-width="1.7"/>
<text x="320.900" y="172.3" font-size="13.4" font-weight="normal" stroke="#000" stroke-width="0.4">#</text>
<text x="329.052" y="172.3" font-size="13.4" font-weight="normal" stroke="#000" stroke-width="0.4">4</text>
<line x1="287.00" y1="191.90" x2="316.80" y2="191.90" stroke="#000" stroke-width="1.7"/>
<text x="320.900" y="196.5" font-size="13.4" font-weight="normal" stroke="#000" stroke-width="0.4">#</text>
<text x="329.052" y="196.5" font-size="13.4" font-weight="normal" stroke="#000" stroke-width="0.4">5</text>
<rect x="299.00" y="92.90" width="6.6" height="6.6" fill="#000"/>
<polygon points="302.70,118.12 306.30,124.39 299.10,124.39" fill="#fff" stroke="#000" stroke-width="1.5" stroke-linejoin="round"/>
<polygon points="302.40,147.80 305.50,142.40 299.30,142.40" fill="#fff" stroke="#000" stroke-width="2.2" stroke-linejoin="round"/>
<circle cx="302.1" cy="168.2" r="3.9" fill="#fff"/>
<circle cx="302.10" cy="168.20" r="2.15" fill="#fff" stroke="#000" stroke-width="1.55"/>
<polygon points="302.4,190.1 304.5,192.7 302.4,195.3 300.3,192.7" fill="#fff" stroke="#000" stroke-width="2.5" stroke-linejoin="round"/>
</svg>
</body></html>
